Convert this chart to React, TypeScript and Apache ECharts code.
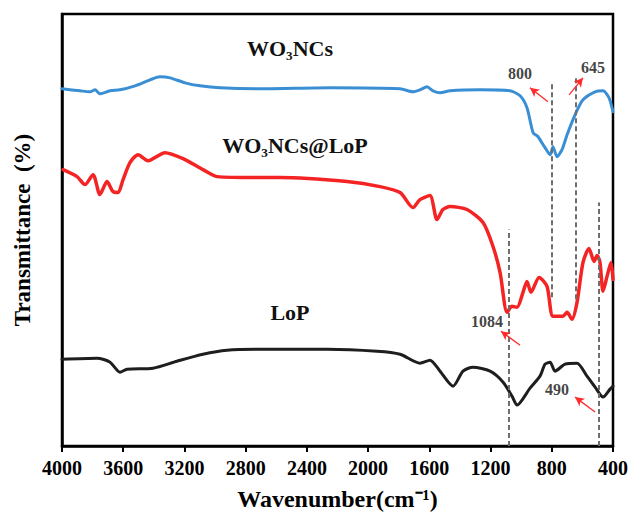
import React, { useEffect, useRef } from "react";
import * as echarts from "echarts";

// FTIR spectra, wavenumber (cm-1) vs. offset transmittance (arbitrary units)
const wo3Wavenumber = [4000, 3882, 3817, 3784, 3752, 3686, 3621, 3523, 3425, 3360, 3294, 3196, 3098, 2968, 2706, 2249, 1791, 1707, 1661, 1615, 1576, 1530, 1465, 1269, 1073, 1007, 962, 922, 890, 844, 811, 792, 766, 733, 700, 648, 596, 517, 465, 426, 400];
const wo3Transmittance = [358, 356, 355, 357, 353, 356, 357, 361, 367, 370, 369, 364, 361, 359, 358, 359, 358, 355, 357, 360, 356, 354, 356, 357, 356, 351, 339, 314, 310, 299, 292, 300, 290, 297, 312, 332, 347, 355, 356, 349, 335];

const wo3LoPWavenumber = [3993, 3902, 3850, 3797, 3752, 3706, 3667, 3634, 3601, 3556, 3503, 3438, 3327, 3209, 3079, 2987, 2706, 2576, 2138, 1922, 1791, 1707, 1661, 1596, 1550, 1511, 1465, 1354, 1249, 1184, 1138, 1092, 1060, 1027, 988, 962, 936, 883, 831, 792, 727, 700, 668, 635, 596, 557, 524, 504, 485, 465, 439, 413, 400];
const wo3LoPTransmittance = [277, 270, 262, 272, 252, 265, 255, 254, 267, 284, 292, 286, 294, 288, 277, 270, 269, 269, 265, 260, 254, 239, 247, 251, 227, 237, 240, 237, 224, 200, 174, 134, 140, 139, 154, 165, 154, 169, 160, 130, 130, 134, 127, 144, 184, 198, 185, 191, 184, 155, 170, 184, 167];

const lopWavenumber = [4000, 3771, 3686, 3621, 3575, 3405, 3249, 3079, 2922, 2706, 2268, 1942, 1791, 1661, 1596, 1530, 1445, 1380, 1315, 1203, 1118, 1060, 1027, 942, 877, 844, 811, 779, 713, 635, 570, 517, 465, 419, 400];
const lopTransmittance = [87, 88, 84, 74, 77, 78, 85, 92, 96, 97, 97, 95, 92, 83, 86, 75, 60, 75, 79, 75, 64, 50, 41, 58, 70, 82, 84, 75, 82, 83, 70, 59, 49, 57, 60];

// Assigned bands
const peakWavenumbers = [1084, 800, 645, 490];
const peakLabels = ["1084", "800", "645", "490"];

const xTickValues = [400, 800, 1200, 1600, 2000, 2400, 2800, 3200, 3600, 4000];

const SERIF = '"Liberation Serif", "Times New Roman", serif';

const pair = (xs: number[], ys: number[]) => xs.map((x, i) => [x, ys[i]]);

export default function App() {
  const ref = useRef<HTMLDivElement>(null);

  useEffect(() => {
    if (!ref.current) return;
    const chart = echarts.init(ref.current, undefined, { renderer: "svg" });

    // vertical extent of each guide line, in transmittance units
    const guideSpans: Record<number, [number, number]> = {
      1084: [0, 217],
      800: [149, 365],
      645: [147, 370],
      490: [0, 244],
    };
    // arrow start/end and label anchor for each band
    const arrowGeom: Record<number, { from: number[]; to: number[]; label: number[] }> = {
      1084: { from: [1007, 101], to: [1132, 115], label: [1223, 125] },
      800: { from: [825, 345], to: [942, 359], label: [1007, 373] },
      645: { from: [687, 352], to: [596, 369], label: [530, 379] },
      490: { from: [517, 34], to: [648, 49], label: [766, 57] },
    };

    const guideLines = peakWavenumbers.map((w) => [
      { coord: [w, guideSpans[w][0]] },
      { coord: [w, guideSpans[w][1]] },
    ]);
    const arrows = peakWavenumbers.map((w) => [
      { coord: arrowGeom[w].from },
      { coord: arrowGeom[w].to },
    ]);
    const peakText = peakWavenumbers.map((w, i) => [
      arrowGeom[w].label[0],
      arrowGeom[w].label[1],
      peakLabels[i],
    ]);

    const lineSeries = (name: string, data: number[][], color: string, width: number) => ({
      name,
      type: "line",
      data,
      showSymbol: false,
      symbol: "none",
      smooth: 0.25,
      silent: true,
      lineStyle: { color, width, cap: "round", join: "round" },
      z: 3,
    });

    chart.setOption({
      animation: false,
      backgroundColor: "#fff",
      grid: {
        left: 62,
        right: 18,
        top: 14,
        bottom: 70,
        outerBoundsMode: "none",
        containLabel: false,
        show: true,
        borderColor: "#000",
        borderWidth: 2.5,
      },
      xAxis: {
        type: "value",
        inverse: true,
        min: 400,
        max: 4000,
        interval: 400,
        name: "Wavenumber(cm\u207B\u00B9)",
        nameLocation: "middle",
        nameGap: 41,
        nameTextStyle: { fontFamily: SERIF, fontWeight: "bold", fontSize: 24, color: "#000" },
        axisLine: { show: true, lineStyle: { color: "#000", width: 2.5 } },
        axisTick: { show: true, inside: false, length: 6, lineStyle: { color: "#000", width: 2 } },
        axisLabel: {
          fontFamily: SERIF,
          fontWeight: "bold",
          fontSize: 20,
          color: "#000",
          margin: 12,
          formatter: (v: number) => (xTickValues.includes(v) ? String(v) : ""),
        },
        splitLine: { show: false },
      },
      yAxis: {
        type: "value",
        min: 0,
        max: 433,
        name: "Transmittance  (%)",
        nameLocation: "middle",
        nameGap: 28,
        nameTextStyle: { fontFamily: SERIF, fontWeight: "bold", fontSize: 23, color: "#000" },
        axisLine: { show: true, lineStyle: { color: "#000", width: 2.5 } },
        axisTick: { show: false },
        axisLabel: { show: false },
        splitLine: { show: false },
      },
      series: [
        lineSeries("WO\u2083NCs", pair(wo3Wavenumber, wo3Transmittance), "#3a8fd4", 3),
        lineSeries("WO\u2083NCs@LoP", pair(wo3LoPWavenumber, wo3LoPTransmittance), "#f52424", 3.5),
        lineSeries("LoP", pair(lopWavenumber, lopTransmittance), "#1e1e1e", 3),
        {
          name: "guides",
          type: "line",
          data: [],
          silent: true,
          markLine: {
            silent: true,
            symbol: ["none", "none"],
            label: { show: false },
            lineStyle: { color: "#6e6e6e", width: 2, type: [5, 3] },
            data: guideLines,
          },
          z: 2,
        },
        {
          name: "arrows",
          type: "line",
          data: [],
          silent: true,
          markLine: {
            silent: true,
            symbol: ["none", "arrow"],
            symbolSize: [7, 9],
            label: { show: false },
            lineStyle: { color: "#ff2a2a", width: 1.3, type: "solid" },
            data: arrows,
          },
          z: 4,
        },
        {
          name: "peaks",
          type: "scatter",
          data: peakText,
          symbolSize: 0,
          silent: true,
          label: {
            show: true,
            position: "inside",
            formatter: (p: any) => p.data[2],
            fontFamily: SERIF,
            fontWeight: "bold",
            fontSize: 16,
            color: "#111",
          },
          z: 5,
        },
      ],
      graphic: [
        {
          type: "text",
          x: 290,
          y: 48,
          silent: true,
          style: { text: "WO\u2083NCs", align: "center", verticalAlign: "middle", font: `bold 22px ${SERIF}`, fill: "#111" },
        },
        {
          type: "text",
          x: 295,
          y: 145,
          silent: true,
          style: { text: "WO\u2083NCs@LoP", align: "center", verticalAlign: "middle", font: `bold 22px ${SERIF}`, fill: "#111" },
        },
        {
          type: "text",
          x: 290,
          y: 312,
          silent: true,
          style: { text: "LoP", align: "center", verticalAlign: "middle", font: `bold 22px ${SERIF}`, fill: "#111" },
        },
      ],
    });

    return () => chart.dispose();
  }, []);

  return (
    <div
      ref={ref}
      style={{ position: "fixed", left: 0, top: 0, width: 631, height: 516, background: "#fff" }}
    />
  );
}
